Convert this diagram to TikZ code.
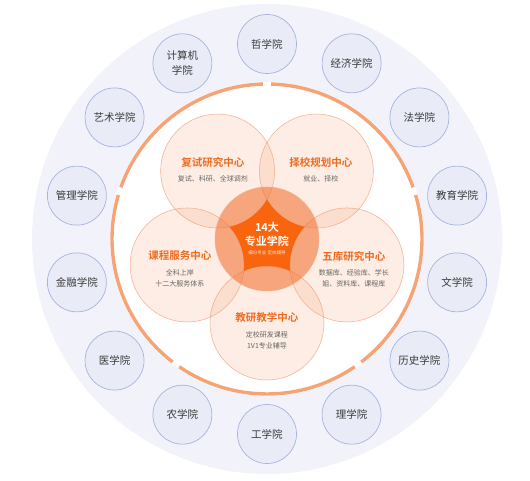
\documentclass[tikz,border=0pt]{standalone}
\usepackage{fontspec}
\setmainfont{Noto Sans CJK SC}[BoldFont={Noto Sans CJK SC Bold}]
\usepackage{xcolor}
\usepackage{tikz}
\definecolor{bgblue}{HTML}{F2F3FA}
\definecolor{colfill}{HTML}{E9ECF7}
\definecolor{colline}{HTML}{A7B3DE}
\definecolor{ringor}{HTML}{F6A375}
\definecolor{petalor}{HTML}{F58A4E}
\definecolor{petalline}{HTML}{F2AE8C}
\definecolor{hubor}{HTML}{F26B2A}
\definecolor{staror}{HTML}{F9650F}
\definecolor{titleor}{HTML}{F06A1E}
\definecolor{subgrey}{HTML}{666666}
\definecolor{txtgrey}{HTML}{3A3A3A}

\begin{document}
\begin{tikzpicture}[x=1pt,y=1pt,
  college/.style={circle,draw=colline,line width=0.7pt,fill=colfill,minimum size=59pt,inner sep=0pt,align=center,font=\fontsize{10.5}{15}\selectfont,text=txtgrey},
  petal/.style={circle,draw=petalline,line width=0.5pt,fill=petalor,fill opacity=0.15,minimum size=114pt,inner sep=0pt},
  hub/.style={circle,draw=petalline,line width=0.5pt,fill=hubor,fill opacity=0.55,minimum size=104pt,inner sep=0pt},
  ctitle/.style={font=\fontsize{10.5}{12}\selectfont\bfseries,text=titleor},
  csub/.style={font=\fontsize{7}{11}\selectfont,text=subgrey,align=center},
  ring/.style={ringor,line width=3.4pt}]
  \useasboundingbox (-267,-242) rectangle (263,239);
  \fill[bgblue] (0,0) circle (235);
  \fill[white] (0,0) circle (157);
  \foreach \g in {18,90,162,234,306}{\draw[ring] (\g+1.5:155) arc[start angle=\g+1.5, end angle=\g+70.5, radius=155];}
  % colleges, clockwise from the top
  \foreach \name [count=\k from 0] in {哲学院,经济学院,法学院,教育学院,文学院,历史学院,理学院,工学院,农学院,医学院,金融学院,管理学院,艺术学院,{计算机\\学院}}{
    \node[college] (col\k) at ({90-\k*360/14}:195) {\name};}
  % five centres
  \node[petal] (jiaoyan) at (270:84) {};
  \node[petal] (wuku) at (342:84) {};
  \node[petal] (zexiao) at (54:84) {};
  \node[petal] (fushi) at (126:84) {};
  \node[petal] (kecheng) at (198:84) {};
  \node[hub] (hub) at (0,0) {};
  \fill[staror] (234:39.5) \foreach \t in {270,342,54,126,198}{ arc[start angle=\t+204.05, end angle=\t+155.95, radius=57] } -- cycle;
  \node[ctitle] (fushiT) at (-54,77) {复试研究中心};
  \node[csub] (fushiS) at (-54,60) {复试、科研、全球调剂};
  \node[ctitle] (zexiaoT) at (54,77) {择校规划中心};
  \node[csub] (zexiaoS) at (54,60) {就业、择校};
  \node[ctitle] (kechengT) at (-87,-17) {课程服务中心};
  \node[csub] (kechengS) at (-87,-39.5) {全科上岸\\十二大服务体系};
  \node[ctitle] (wukuT) at (87,-17) {五库研究中心};
  \node[csub] (wukuS) at (87,-39.5) {数据库、经验库、学长\\姐、资料库、课程库};
  \node[ctitle] (jiaoyanT) at (0,-79) {教研教学中心};
  \node[csub] (jiaoyanS) at (0,-101.5) {定校研发课程\\1V1专业辅导};
  \node[font=\fontsize{11}{12}\selectfont\bfseries,text=white] (hubA) at (0,12) {14大};
  \node[font=\fontsize{11}{12}\selectfont\bfseries,text=white] (hubB) at (0,-2) {专业学院};
  \node[font=\fontsize{4.5}{5}\selectfont,text=white!85!staror] (hubC) at (0,-14) {细分专业 定向辅导};
\end{tikzpicture}
\end{document}
